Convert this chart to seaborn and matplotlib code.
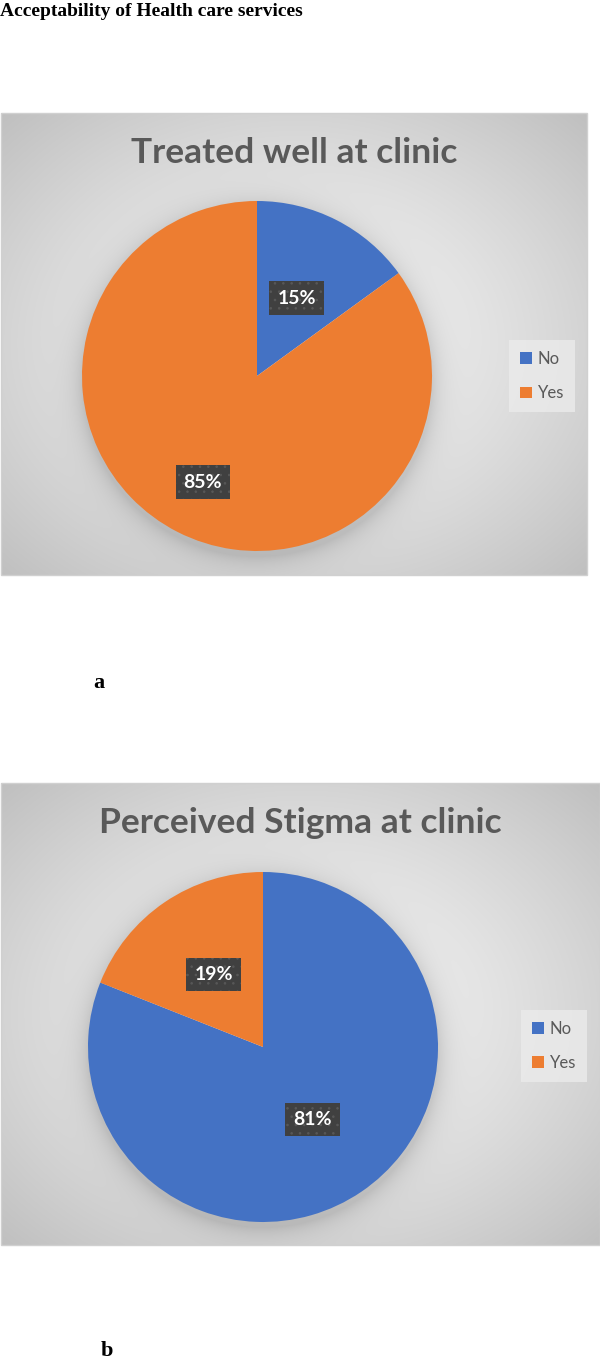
import numpy as np
import matplotlib
matplotlib.use("Agg")
import matplotlib.pyplot as plt
import seaborn as sns

# ---------------- data ----------------
categories = ["No", "Yes"]
treated_values = [15, 85]
stigma_values = [81, 19]
titles = ["Treated well at clinic", "Perceived Stigma at clinic"]
panel_letters = ["a", "b"]
header = "Acceptability of Health care services"

# ---------------- style ----------------
sns.set_theme(style="white")
palette = sns.color_palette(["#4472C4", "#ED7D31"])
plt.rcParams["font.family"] = ["Lato", "DejaVu Sans"]
plt.rcParams["hatch.linewidth"] = 0.6

W, H = 600, 1361
fig = plt.figure(figsize=(W / 100, H / 100), dpi=100)
fig.patch.set_facecolor("white")


def rect(x0, y0, x1, y1):
    return [x0 / W, 1 - y1 / H, (x1 - x0) / W, (y1 - y0) / H]


panels = [
    dict(values=treated_values, box=(1, 113, 587, 575), center=(257, 376), R=175,
         title_y=153, legend=(542, 376), dists=[0.5, 0.68], letter=(99, 683)),
    dict(values=stigma_values, box=(1, 783, 600, 1245), center=(263, 1047), R=175,
         title_y=823, legend=(554, 1046), dists=[0.5, 0.5], letter=(107, 1351)),
]

for i, (p, title) in enumerate(zip(panels, titles)):
    x0, y0, x1, y1 = p["box"]
    bw, bh = x1 - x0, y1 - y0
    # background radial gradient + pie shadow
    bg = fig.add_axes(rect(x0, y0, x1, y1))
    yy, xx = np.mgrid[0:bh, 0:bw].astype(float)
    cxb, cyb = bw / 2, bh * 0.5
    d = np.sqrt(((xx - cxb) / (bw / 2)) ** 2 + ((yy - cyb) / (bh / 2)) ** 2) / np.sqrt(2)
    val = 0.97 - (0.97 - 0.75) * np.clip(d, 0, 1) ** 1.3
    pcx, pcy = p["center"][0] - x0, p["center"][1] - y0 + 5
    r = np.sqrt((xx - pcx) ** 2 + (yy - pcy) ** 2)
    shadow = 0.12 * np.exp(-np.clip(r - p["R"], 0, None) / 12.0)
    val = val - shadow * (r > p["R"] - 10)
    img = np.dstack([val, val, val])
    bg.imshow(img, extent=(0, bw, bh, 0), aspect="auto", interpolation="bilinear")
    bg.set_xlim(0, bw)
    bg.set_ylim(bh, 0)
    bg.axis("off")
    # border
    fig.patches.append(plt.Rectangle((x0 / W, 1 - y1 / H), bw / W, bh / H,
                                     transform=fig.transFigure, fill=False,
                                     edgecolor="#d0d0d0", linewidth=1, zorder=5))

    # pie
    cx, cy, R = p["center"][0], p["center"][1], p["R"]
    ax = fig.add_axes(rect(cx - R, cy - R, cx + R, cy + R))
    wedges, _ = ax.pie(p["values"], colors=palette, startangle=90,
                       counterclock=False, radius=1,
                       wedgeprops=dict(linewidth=0))
    ax.set_xlim(-1, 1)
    ax.set_ylim(-1, 1)
    ax.set_aspect("equal")
    ax.axis("off")
    for w, v, dist in zip(wedges, p["values"], p["dists"]):
        th = np.deg2rad((w.theta1 + w.theta2) / 2)
        ax.text(dist * np.cos(th), dist * np.sin(th), f"{v}%",
                ha="center", va="center", color="white",
                fontsize=14, fontweight="bold",
                bbox=dict(boxstyle="square,pad=0.42", facecolor="#404040",
                          edgecolor="#585858", linewidth=0, hatch=".."))

    # title
    fig.text((x0 + x1) / 2 / W, 1 - p["title_y"] / H, title, ha="center",
             va="center", fontsize=25.5, fontweight="bold", color="#595959")

    # legend
    lx, ly = p["legend"]
    leg = fig.legend(wedges, categories, loc="center",
                     bbox_to_anchor=(lx / W, 1 - ly / H),
                     frameon=True, fancybox=False, facecolor="#ebebeb",
                     edgecolor="none", fontsize=12, handlelength=0.7,
                     handleheight=0.7, handletextpad=0.35, labelspacing=1.1,
                     borderpad=0.65, labelcolor="#595959")
    leg.get_frame().set_alpha(0.8)

    # panel letter
    fig.text(p["letter"][0] / W, 1 - p["letter"][1] / H, panel_letters[i],
             ha="center", va="center", fontsize=16, fontweight="bold",
             family=["Liberation Serif"], color="black")

fig.text(0 / W, 1 - 11 / H, header, ha="left", va="center", fontsize=14,
         fontweight="bold", family=["Liberation Serif"], color="black")

fig.savefig("out.png", dpi=100, facecolor="white")
